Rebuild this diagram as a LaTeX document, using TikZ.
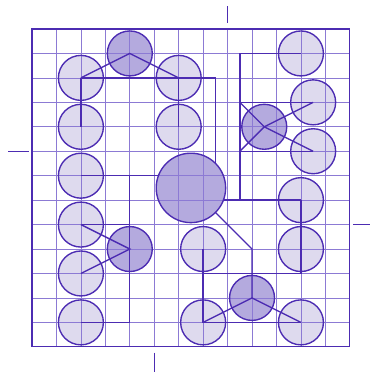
\documentclass[tikz,border=0pt]{standalone}
\definecolor{ink}{RGB}{76,44,178}
\definecolor{gridc}{RGB}{140,122,212}
\definecolor{lightfill}{RGB}{222,218,238}
\definecolor{darkfill}{RGB}{180,170,222}
\begin{document}
\begin{tikzpicture}[x=1cm,y=-1cm,
  lc/.style={circle,inner sep=0pt,outer sep=0pt,minimum size=1.84cm,fill=lightfill},
  dc/.style={lc,fill=darkfill},
  bc/.style={dc,minimum size=2.84cm},
  gridline/.style={gridc,line width=0.7pt},
  frameline/.style={ink,line width=1.4pt},
  wire/.style={ink,line width=1.6pt,line join=miter},
  ring/.style={ink,line width=1.6pt},
  tickline/.style={ink,line width=1.3pt}]
\useasboundingbox (-1.309,-1.186) rectangle (13.824,14.03);
% circle fills
\node[dc] (h1) at (4,1) {};
\node[lc] (a) at (2,2) {};
\node[lc] (b) at (6,2) {};
\node[lc] (c) at (2,4) {};
\node[lc] (d) at (6,4) {};
\node[lc] (e) at (2,6) {};
\node[lc] (f) at (2,8) {};
\node[dc] (h2) at (4,9) {};
\node[lc] (g) at (2,10) {};
\node[lc] (k) at (2,12) {};
\node[bc] (big) at (6.5,6.5) {};
\node[lc] (m) at (7,9) {};
\node[lc] (n) at (11,1) {};
\node[lc] (p) at (11.5,3) {};
\node[dc] (h3) at (9.5,4) {};
\node[lc] (q) at (11.5,5) {};
\node[lc] (r) at (11,7) {};
\node[lc] (s) at (11,9) {};
\node[dc] (h4) at (9,11) {};
\node[lc] (t) at (7,12) {};
\node[lc] (u) at (11,12) {};
% grid
\foreach \i in {1,...,12} {
  \draw[gridline] (\i,0) -- (\i,13);
  \draw[gridline] (0,\i) -- (13,\i);
}
\draw[frameline] (0,0) rectangle (13,13);
% junctions
\coordinate (J1) at (7.5,2);
\coordinate (J2) at (8.5,1);
\coordinate (J3) at (8.5,7);
\coordinate (J4) at (9,9);
\coordinate (J5) at (4,6);
\coordinate (J6) at (4,8);
\coordinate (J7) at (4,12);
\coordinate (J8) at (8.5,3);
\coordinate (J9) at (8.5,5);
\coordinate (J10) at (7,10);
\coordinate (J11) at (11,10);
% connectors
\draw[wire] (a.center) -- (h1.center) -- (b.center);
\draw[wire] (a.center) -- (c.center);
\draw[wire] (b.center) -- (d.center);
\draw[wire] (a.center) -- (J1) -- (J1 |- big.45);
\draw[wire] (e.center) -- (big.159 |- e.center);
\draw[wire] (J5) -- (J7);
\draw[wire] (f.center) -- (J6);
\draw[wire] (k.center) -- (J7);
\draw[wire] (f.center) -- (h2.center) -- (g.center);
\draw[wire] (n.center) -- (J2) -- (J3);
\draw[wire] (J8) -- (p.center);
\draw[wire] (J9) -- (q.center);
\draw[wire] (J8) -- (h3.center) -- (q.center);
\draw[wire] (J9) -- (h3.center) -- (p.center);
\draw[wire] (big.339 |- r.center) -- (r.center);
\draw[wire] (big.315) -- (J4) -- (h4.center);
\draw[wire] (m.center) -- (t.center) -- (u.center);
\draw[wire] (t.center) -- (h4.center) -- (u.center);
\draw[wire] (J10) -- (J11) -- (r.center);
% outlines
\foreach \nm in {h1,a,b,c,d,e,f,h2,g,k,m,n,p,h3,q,r,s,h4,t,u}
  \draw[ring] (\nm.center) circle[radius=0.92];
\draw[ring] (big.center) circle[radius=1.42];
% ticks
\draw[tickline] (8,-0.94) -- (8,-0.23);
\draw[tickline] (-0.98,5) -- (-0.11,5);
\draw[tickline] (13.13,8) -- (13.82,8);
\draw[tickline] (5,13.24) -- (5,14.03);
\end{tikzpicture}
\end{document}
